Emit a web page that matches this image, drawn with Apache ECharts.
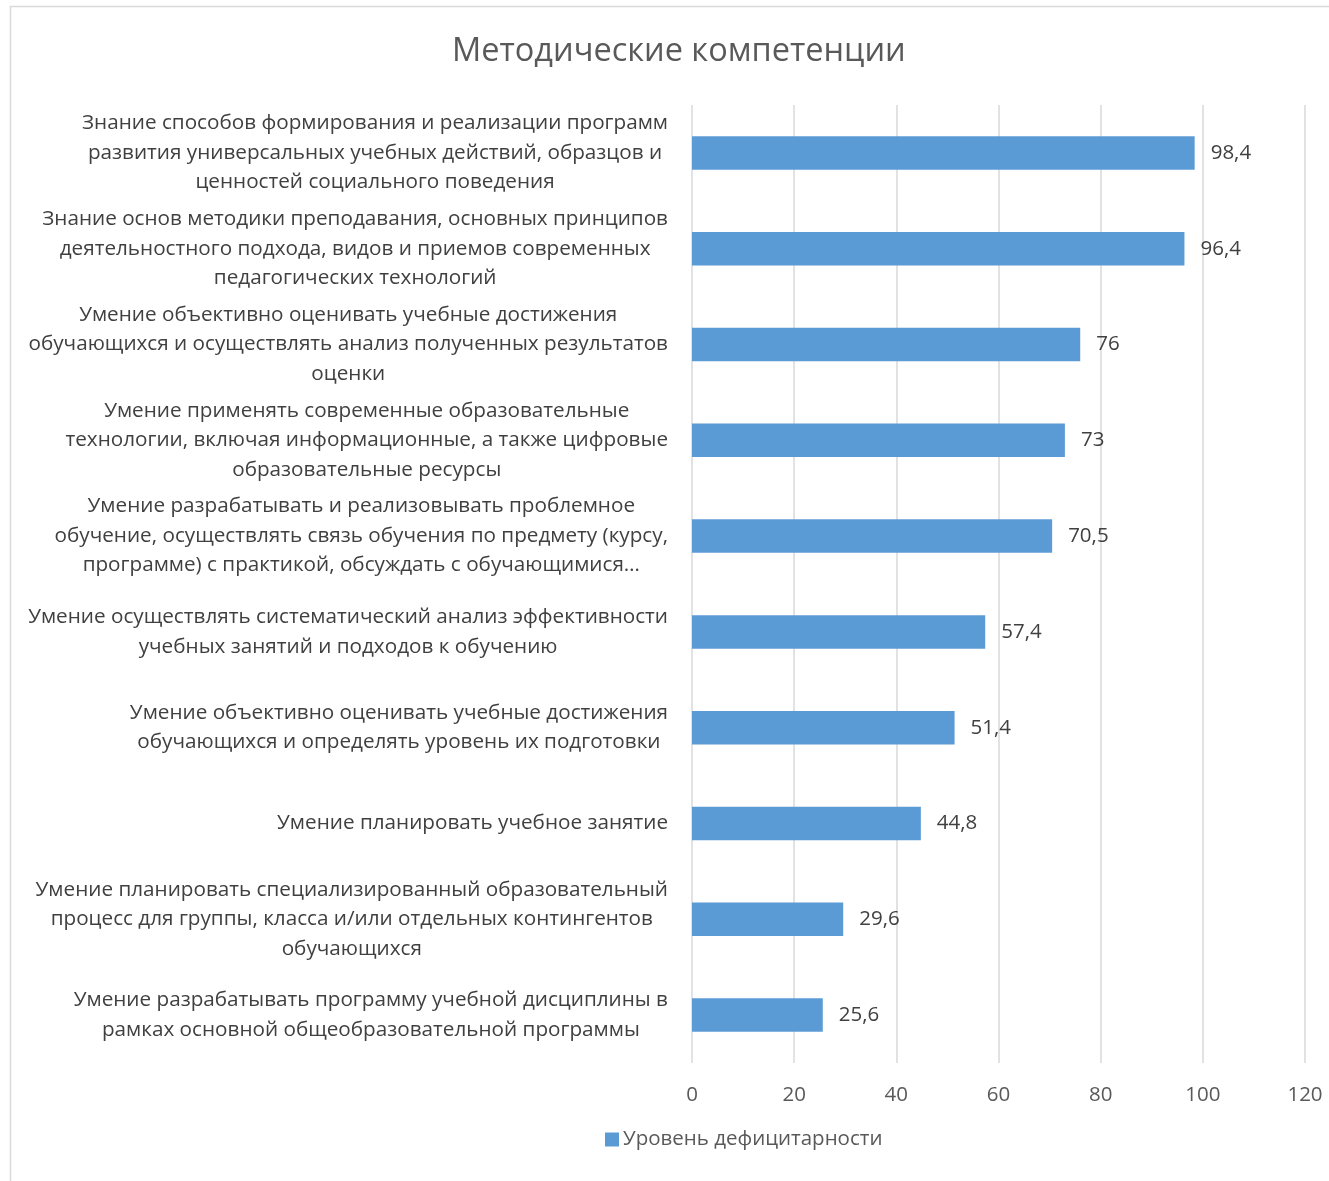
<!DOCTYPE html>
<html><head><meta charset="utf-8">
<script src="https://cdn.jsdelivr.net/npm/echarts@6/dist/echarts.min.js"></script>
<style>html,body{margin:0;padding:0;background:#fff}#c{width:1329px;height:1181px}</style>
</head><body><div id="c"></div>
<script>
const title = 'Методические компетенции';
const seriesName = 'Уровень дефицитарности';
const categories = [
  'Знание способов формирования и реализации программ\nразвития универсальных учебных действий, образцов и\nценностей социального поведения',
  'Знание основ методики преподавания, основных принципов\nдеятельностного подхода, видов и приемов современных\nпедагогических технологий',
  'Умение объективно оценивать учебные достижения\nобучающихся и осуществлять анализ полученных результатов\nоценки',
  'Умение применять современные образовательные\nтехнологии, включая информационные, а также цифровые\nобразовательные ресурсы',
  'Умение разрабатывать и реализовывать проблемное\nобучение, осуществлять связь обучения по предмету (курсу,\nпрограмме) с практикой, обсуждать с обучающимися…',
  'Умение осуществлять систематический анализ эффективности\nучебных занятий и подходов к обучению',
  'Умение объективно оценивать учебные достижения\nобучающихся и определять уровень их подготовки',
  'Умение планировать учебное занятие',
  'Умение планировать специализированный образовательный\nпроцесс для группы, класса и/или отдельных контингентов\nобучающихся',
  'Умение разрабатывать программу учебной дисциплины в\nрамках основной общеобразовательной программы'
];
const values = [98.4, 96.4, 76, 73, 70.5, 57.4, 51.4, 44.8, 29.6, 25.6];
const axisMin = 0, axisMax = 120, axisStep = 20;

const font = '"Open Sans", "Noto Sans", sans-serif';
const chart = echarts.init(document.getElementById('c'));
chart.setOption({
  animation: false,
  backgroundColor: '#fff',
  title: {
    text: title, left: 452, top: 35, padding: 0,
    textStyle: { fontFamily: font, fontSize: 32.5, fontWeight: 'normal', color: '#595959' }
  },
  graphic: [{
    type: 'rect', shape: { x: 10.5, y: 6.5, width: 1400, height: 1300 },
    style: { fill: 'none', stroke: '#d9d9d9', lineWidth: 1.5 }, silent: true
  }],
  legend: {
    data: [seriesName], left: 600, top: 1124, itemWidth: 14, itemHeight: 14, itemGap: 6,
    icon: 'rect',
    textStyle: { fontFamily: font, fontSize: 20.5, color: '#595959', padding: [0, 0, 0, -1] }
  },
  grid: { left: 692, right: 24, top: 105, bottom: 118, containLabel: false },
  xAxis: {
    type: 'value', min: axisMin, max: axisMax, interval: axisStep,
    axisLine: { show: false }, axisTick: { show: false },
    splitLine: { show: true, lineStyle: { color: '#d9d9d9', width: 1.5 } },
    axisLabel: { fontFamily: font, fontSize: 20.5, color: '#595959', margin: 22 }
  },
  yAxis: {
    type: 'category', data: categories, inverse: true,
    axisLine: { show: false }, axisTick: { show: false },
    axisLabel: {
      fontFamily: font, fontSize: 20.7, color: '#404040', margin: 24, align: 'right', lineHeight: 29.5,
      formatter: v => v.split('\n').map(l => '{c|' + l + '}').join('\n'),
      rich: { c: { align: 'center', fontFamily: font, fontSize: 20.7, color: '#404040', lineHeight: 29.5 } }
    }
  },
  series: [{
    name: seriesName, type: 'bar', data: values, barWidth: '35%',
    itemStyle: { color: '#5b9bd5' },
    label: {
      show: true, position: 'right', distance: 16,
      fontFamily: font, fontSize: 20.5, color: '#404040',
      formatter: p => String(p.value).replace('.', ',')
    }
  }]
});
</script></body></html>
